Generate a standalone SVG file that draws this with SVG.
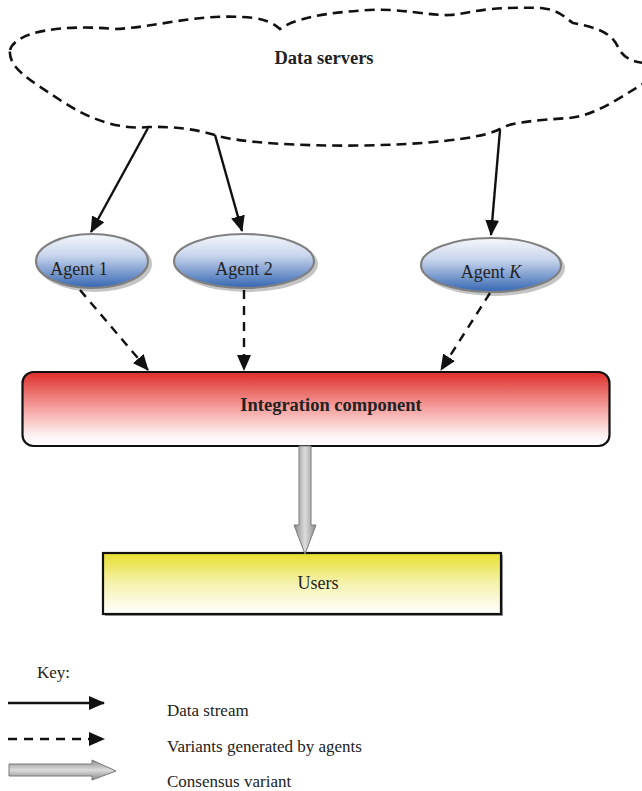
<svg xmlns="http://www.w3.org/2000/svg" width="642" height="791" viewBox="0 0 642 791">
<defs>
<style>
.t{font-family:"Liberation Serif","Times New Roman",serif;fill:#222;}
.b{font-weight:bold;font-size:18.5px;}
.n{font-size:18px;}
.k{font-size:17px;}
.solid{stroke:#111;stroke-width:2.4;fill:none;marker-end:url(#ah);}
.dash{stroke:#111;stroke-width:2.4;fill:none;stroke-dasharray:9 7;marker-end:url(#ah);}
.agent{fill:url(#agentG);stroke:#808080;stroke-width:2.2;}
.shadow{fill:#c4c4c4;}
</style>
<marker id="ah" markerWidth="16" markerHeight="14" refX="15" refY="7" orient="auto" markerUnits="userSpaceOnUse">
<path d="M0,0 L16,7 L0,14 Z" fill="#111"/>
</marker>
<linearGradient id="agentG" x1="0" y1="0" x2="0" y2="1">
<stop offset="0" stop-color="#f6f7fb"/>
<stop offset="0.4" stop-color="#c8d5ec"/>
<stop offset="1" stop-color="#3466b2"/>
</linearGradient>
<linearGradient id="redG" x1="0" y1="0" x2="0" y2="1">
<stop offset="0" stop-color="#dd2e2a"/>
<stop offset="0.45" stop-color="#f39896"/>
<stop offset="0.85" stop-color="#fdf1f1"/>
<stop offset="1" stop-color="#ffffff"/>
</linearGradient>
<linearGradient id="yelG" x1="0" y1="0" x2="0" y2="1">
<stop offset="0" stop-color="#e6df30"/>
<stop offset="0.5" stop-color="#f6f2ae"/>
<stop offset="1" stop-color="#ffffff"/>
</linearGradient>
<linearGradient id="grayV" x1="0" y1="0" x2="1" y2="0">
<stop offset="0" stop-color="#8a8a8a"/>
<stop offset="0.5" stop-color="#dcdcdc"/>
<stop offset="1" stop-color="#8a8a8a"/>
</linearGradient>
<linearGradient id="grayH" x1="0" y1="0" x2="0" y2="1">
<stop offset="0" stop-color="#8a8a8a"/>
<stop offset="0.5" stop-color="#dcdcdc"/>
<stop offset="1" stop-color="#8a8a8a"/>
</linearGradient>
</defs>
<rect width="642" height="791" fill="#fff"/>

<g id="data-servers">
<path d="M10,50 C15,32 60,24 115,29 C160,27 200,12 254,18 Q270,20 280,29 Q300,14 369,10 C400,8 430,16 450,15 C470,14 480,6 541,8 C560,10 565,18 573,23 C600,28 612,34 618,47 C624,60 635,62 650,64 L650,80 C630,90 600,115 569,118 C540,120 510,122 500,129 C460,150 260,150 215,135 Q185,126 149,127 C120,130 90,120 60,100 C30,80 8,68 10,50 Z" fill="none" stroke="#111" stroke-width="2.6" stroke-dasharray="10 6"/>
<text class="t b" x="324" y="64" text-anchor="middle">Data servers</text>
</g>

<g id="agent-1">
<ellipse class="shadow" cx="95" cy="264" rx="57" ry="28"/>
<ellipse class="agent" cx="92" cy="261" rx="56" ry="27"/>
<text class="t n" x="79" y="275" text-anchor="middle">Agent 1</text>
</g>

<g id="agent-2">
<ellipse class="shadow" cx="247" cy="264" rx="71" ry="28"/>
<ellipse class="agent" cx="244" cy="261" rx="70" ry="27"/>
<text class="t n" x="244" y="275" text-anchor="middle">Agent 2</text>
</g>

<g id="agent-k">
<ellipse class="shadow" cx="494" cy="268" rx="71" ry="28"/>
<ellipse class="agent" cx="491" cy="265" rx="70" ry="27"/>
<text class="t n" x="491" y="278" text-anchor="middle">Agent <tspan font-style="italic">K</tspan></text>
</g>

<g id="integration-component">
<rect x="22.5" y="372" width="587" height="74" rx="11" fill="url(#redG)" stroke="#111" stroke-width="2.2"/>
<text class="t b" x="331" y="411" text-anchor="middle">Integration component</text>
</g>

<g id="users">
<rect x="105" y="555" width="398" height="61" fill="#9a9a9a"/>
<rect x="103" y="553" width="398" height="61" fill="url(#yelG)" stroke="#111" stroke-width="2.2"/>
<text class="t n" x="318" y="589" text-anchor="middle">Users</text>
</g>

<g id="connectors">
<line class="solid" x1="148" y1="128" x2="91" y2="232"/>
<line class="solid" x1="215" y1="135" x2="242" y2="231"/>
<line class="solid" x1="500" y1="130" x2="491" y2="235"/>
<line class="dash" x1="80" y1="290" x2="148" y2="370"/>
<line class="dash" x1="244" y1="290" x2="244" y2="370"/>
<line class="dash" x1="490" y1="293" x2="441" y2="370"/>
<path d="M299,446 L311,446 L311,525 L316,525 L305,554 L294,525 L299,525 Z" fill="url(#grayV)" stroke="#7a7a7a" stroke-width="1"/>
</g>

<g id="key">
<text class="t k" x="37" y="678">Key:</text>
<line class="solid" x1="8" y1="703" x2="104" y2="703"/>
<text class="t k" x="167" y="716">Data stream</text>
<line class="dash" x1="8" y1="739" x2="104" y2="739"/>
<text class="t k" x="167" y="752">Variants generated by agents</text>
<path d="M9,764 L92,764 L92,760 L116,771 L92,780 L92,776 L9,776 Z" fill="url(#grayH)" stroke="#7a7a7a" stroke-width="1"/>
<text class="t k" x="167" y="787">Consensus variant</text>
</g>
</svg>
